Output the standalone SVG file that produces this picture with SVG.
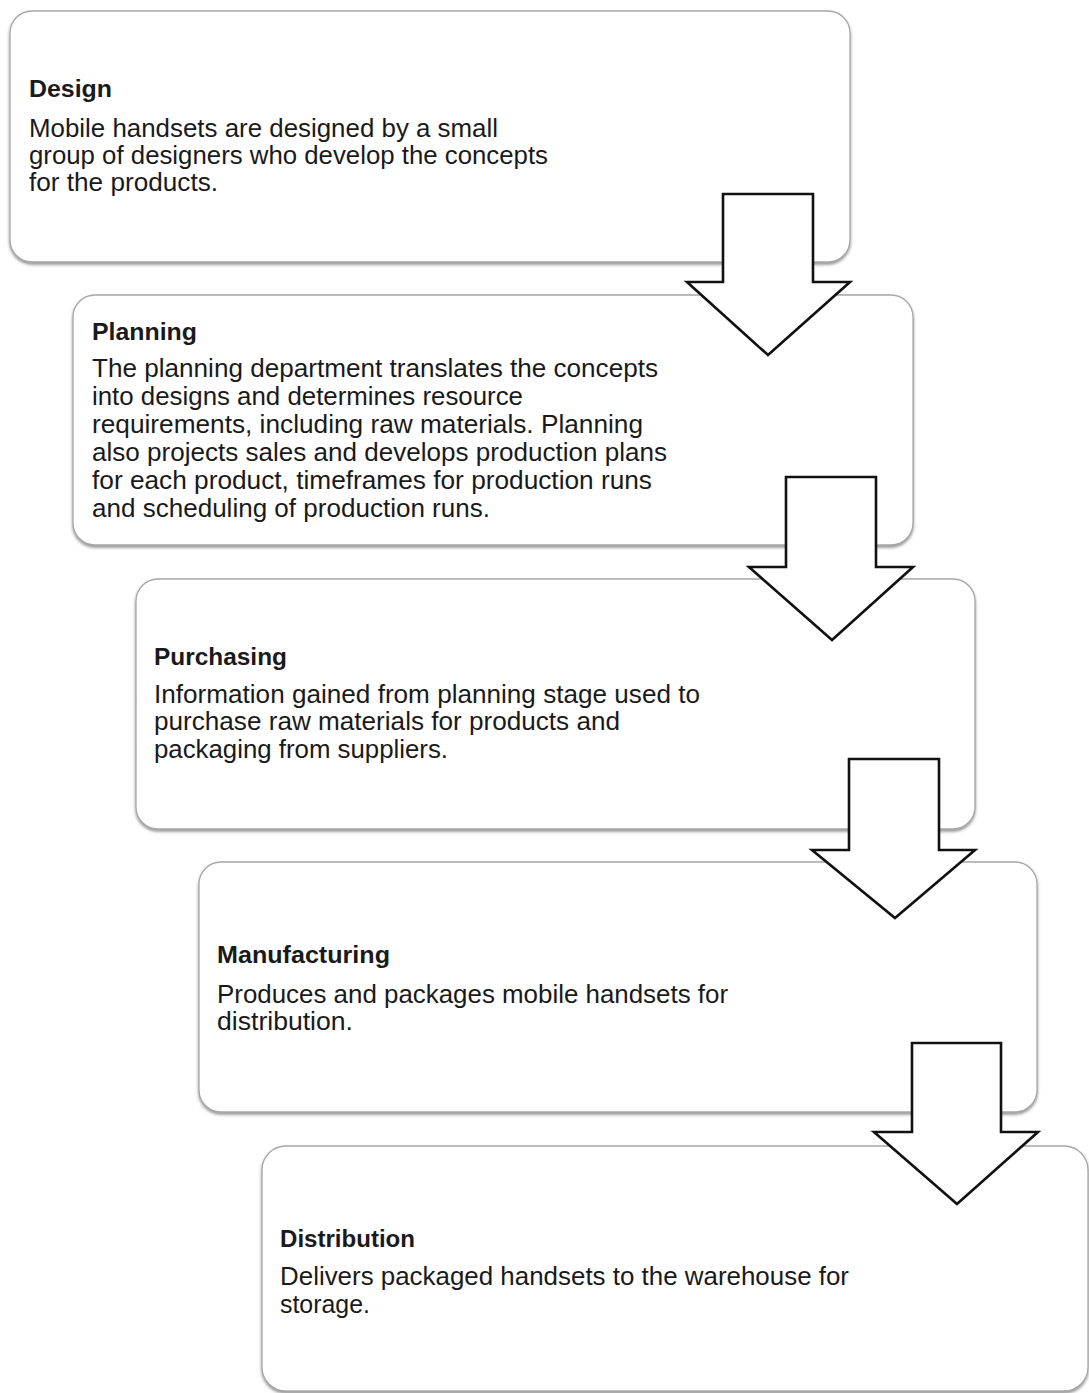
<svg xmlns="http://www.w3.org/2000/svg" width="1089" height="1393" viewBox="0 0 1089 1393">
  <defs>
    <filter id="shadow" x="-5%" y="-5%" width="110%" height="115%">
      <feDropShadow dx="0" dy="2" stdDeviation="1.5" flood-color="#666" flood-opacity="0.7"/>
    </filter>
  </defs>
  <style>
    .box { fill: #ffffff; stroke: #a8a8a8; stroke-width: 1.3; filter: url(#shadow); }
    .arrow { fill: #ffffff; stroke: #111111; stroke-width: 2.6; stroke-linejoin: miter; }
    .title { font-family: "Liberation Sans", Arial, sans-serif; font-weight: bold; font-size: 23px; fill: #1a1a1a; }
    .body { font-family: "Liberation Sans", Arial, sans-serif; font-size: 25px; fill: #1a1a1a; }
  </style>
  <rect width="1089" height="1393" fill="#ffffff"/>

  <g id="node-design">
    <rect class="box" x="10" y="11" width="840" height="251" rx="22" ry="22"/>
    <text class="title" x="29" y="97" textLength="83" lengthAdjust="spacingAndGlyphs">Design</text>
    <text class="body" x="29" y="137" textLength="469" lengthAdjust="spacingAndGlyphs">Mobile handsets are designed by a small</text>
    <text class="body" x="29" y="164" textLength="519" lengthAdjust="spacingAndGlyphs">group of designers who develop the concepts</text>
    <text class="body" x="29" y="191" textLength="189" lengthAdjust="spacingAndGlyphs">for the products.</text>
  </g>

  <g id="node-planning">
    <rect class="box" x="73" y="295" width="840" height="250" rx="22" ry="22"/>
    <text class="title" x="92" y="340" textLength="105" lengthAdjust="spacingAndGlyphs">Planning</text>
    <text class="body" x="92" y="377" textLength="566" lengthAdjust="spacingAndGlyphs">The planning department translates the concepts</text>
    <text class="body" x="92" y="405" textLength="431" lengthAdjust="spacingAndGlyphs">into designs and determines resource</text>
    <text class="body" x="92" y="433" textLength="551" lengthAdjust="spacingAndGlyphs">requirements, including raw materials. Planning</text>
    <text class="body" x="92" y="461" textLength="575" lengthAdjust="spacingAndGlyphs">also projects sales and develops production plans</text>
    <text class="body" x="92" y="489" textLength="560" lengthAdjust="spacingAndGlyphs">for each product, timeframes for production runs</text>
    <text class="body" x="92" y="517" textLength="398" lengthAdjust="spacingAndGlyphs">and scheduling of production runs.</text>
  </g>

  <g id="node-purchasing">
    <rect class="box" x="136" y="579" width="839" height="250" rx="22" ry="22"/>
    <text class="title" x="154" y="665" textLength="133" lengthAdjust="spacingAndGlyphs">Purchasing</text>
    <text class="body" x="154" y="703" textLength="546" lengthAdjust="spacingAndGlyphs">Information gained from planning stage used to</text>
    <text class="body" x="154" y="730" textLength="466" lengthAdjust="spacingAndGlyphs">purchase raw materials for products and</text>
    <text class="body" x="154" y="758" textLength="294" lengthAdjust="spacingAndGlyphs">packaging from suppliers.</text>
  </g>

  <g id="node-manufacturing">
    <rect class="box" x="199" y="862" width="838" height="250" rx="22" ry="22"/>
    <text class="title" x="217" y="963" textLength="173" lengthAdjust="spacingAndGlyphs">Manufacturing</text>
    <text class="body" x="217" y="1003" textLength="511" lengthAdjust="spacingAndGlyphs">Produces and packages mobile handsets for</text>
    <text class="body" x="217" y="1030" textLength="136" lengthAdjust="spacingAndGlyphs">distribution.</text>
  </g>

  <g id="node-distribution">
    <rect class="box" x="262" y="1146" width="826" height="245" rx="24" ry="24"/>
    <text class="title" x="280" y="1247" textLength="135" lengthAdjust="spacingAndGlyphs">Distribution</text>
    <text class="body" x="280" y="1285" textLength="569" lengthAdjust="spacingAndGlyphs">Delivers packaged handsets to the warehouse for</text>
    <text class="body" x="280" y="1313" textLength="90" lengthAdjust="spacingAndGlyphs">storage.</text>
  </g>

  <g id="connectors">
    <polygon class="arrow" points="723,194 813,194 813,282 850,282 768,355 687,282 723,282"/>
    <polygon class="arrow" points="786,477 876,477 876,567 913,567 832,640 749,567 786,567"/>
    <polygon class="arrow" points="849,759 939,759 939,850 975,850 895,918 812,850 849,850"/>
    <polygon class="arrow" points="912,1043 1001,1043 1001,1132 1038,1132 957,1204 874,1132 912,1132"/>
  </g>
</svg>
